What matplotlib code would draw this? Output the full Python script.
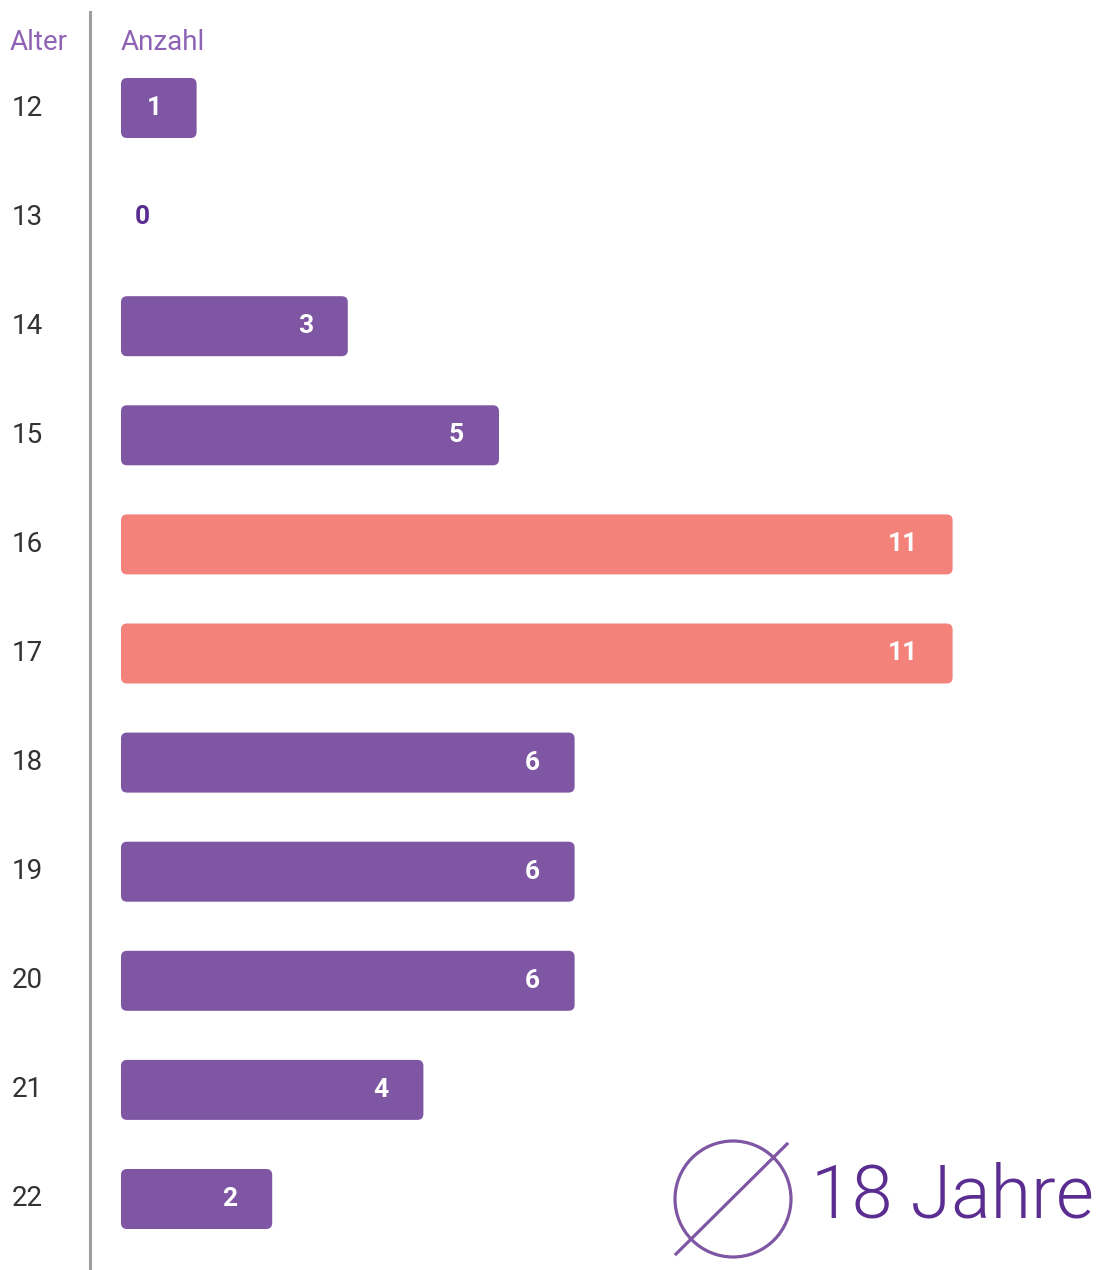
import matplotlib
matplotlib.use("Agg")
import matplotlib.pyplot as plt
from matplotlib.patches import FancyBboxPatch, Circle
from matplotlib.lines import Line2D
from matplotlib import font_manager as fm
import matplotlib.transforms as mtransforms

plt.rcParams['font.family'] = ['Roboto', 'DejaVu Sans']

ages = ["12", "13", "14", "15", "16", "17", "18", "19", "20", "21", "22"]
counts = [1, 0, 3, 5, 11, 11, 6, 6, 6, 4, 2]
highlight = [False, False, False, False, True, True, False, False, False, False, False]
col_header_left = "Alter"
col_header_right = "Anzahl"
avg_text = "18 Jahre"

PURPLE = "#7F56A3"
CORAL = "#F2827A"
DARK_PURPLE = "#5B2D91"
HEADER = "#8E63B5"
LABEL = "#333333"


def font_file(name):
    for f in fm.fontManager.ttflist:
        if f.fname.endswith(name):
            return fm.FontProperties(fname=f.fname)
    return fm.FontProperties(family='Roboto')


REG = font_file('Roboto-Regular.ttf')
BOLD = font_file('Roboto-Bold.ttf')
LIGHT = font_file('Roboto-Light.ttf')

W, H = 1099, 1270
fig = plt.figure(figsize=(W / 100, H / 100), dpi=100)
ax = fig.add_axes([0, 0, 1, 1])
ax.set_axis_off()

px_per_unit = 75.6
x0 = 121
row_px = 109.1
y0 = 108
ax.set_xlim(-x0 / px_per_unit, (W - x0) / px_per_unit)
ax.set_ylim((H - y0) / row_px, -y0 / row_px)

pos = list(range(len(ages)))
bar_h = 60 / row_px
rx = 6 / px_per_unit
ry = 6 / row_px

blend = mtransforms.blended_transform_factory(fig.transFigure, ax.transData)


def off(dx):
    return mtransforms.offset_copy(ax.transData, fig=fig, x=dx * 72 / 100, y=0, units='points')


for p, v, hl in zip(pos, counts, highlight):
    if v > 0:
        patch = FancyBboxPatch((0, p - bar_h / 2), v, bar_h,
                               boxstyle=f"round,pad=0,rounding_size={rx}",
                               mutation_aspect=ry / rx,
                               facecolor=CORAL if hl else PURPLE, edgecolor='none')
        ax.add_patch(patch)
        ax.text(v, p, str(v), transform=off(-35), ha='right', va='center',
                color='white', fontproperties=BOLD, fontsize=19)
    else:
        ax.text(0, p, str(v), transform=off(14), ha='left', va='center',
                color=DARK_PURPLE, fontproperties=BOLD, fontsize=19)

for p, a in zip(pos, ages):
    ax.text(12 / W, p, a, transform=blend, ha='left', va='center',
            color=LABEL, fontproperties=REG, fontsize=20)

# headers
fig.text(10 / W, 1 - 43 / H, col_header_left, ha='left', va='center', color=HEADER,
         fontproperties=REG, fontsize=20)
fig.text(121 / W, 1 - 43 / H, col_header_right, ha='left', va='center', color=HEADER,
         fontproperties=REG, fontsize=20)

# vertical divider
fig.add_artist(Line2D([90 / W, 90 / W], [1 - 12 / H, 0], transform=fig.transFigure,
                      color="#9E9E9E", linewidth=2.2))

# average symbol
ov = fig.add_axes([0, 0, 1, 1])
ov.set_axis_off()
ov.set_xlim(0, W)
ov.set_ylim(H, 0)
ov.add_patch(Circle((733, 1199), 58, facecolor='none', edgecolor=PURPLE, linewidth=2.3))
ov.add_line(Line2D([676, 787], [1254, 1144], color=PURPLE, linewidth=2.3))
ov.text(811, 1218, avg_text, ha='left', va='baseline', color=DARK_PURPLE,
        fontproperties=LIGHT, fontsize=53)

fig.savefig("out.png", dpi=100)
